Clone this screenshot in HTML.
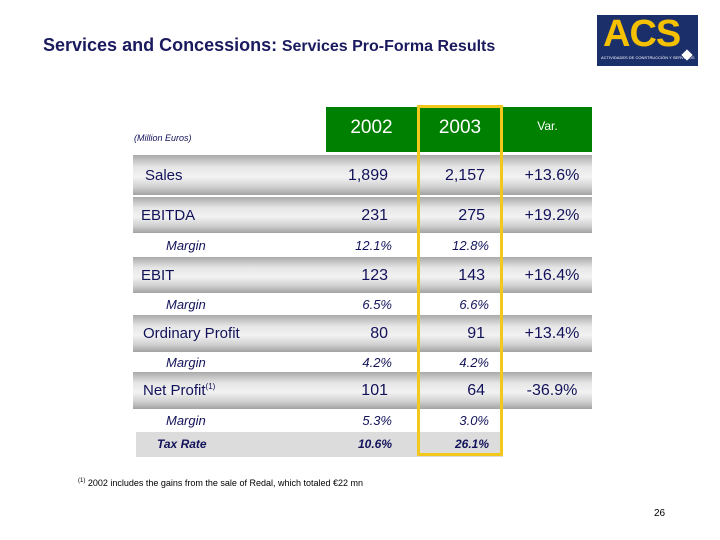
<!DOCTYPE html>
<html><head><meta charset="utf-8"><style>
body{margin:0;width:720px;height:540px;background:#fff;position:relative;overflow:hidden;font-family:"Liberation Sans",sans-serif;color:#12125a}
.a{position:absolute;white-space:nowrap}
.band{position:absolute;left:133px;width:459px;background:linear-gradient(#a9a9a9,#e6e6e6 30%,#f2f2f2 55%,#d0d0d0 80%,#a2a2a2)}
.hdr{position:absolute;top:107px;height:45px;background:#008000;color:#fff;font-size:19px;text-align:center;line-height:42px}
</style></head><body>
<div class="a" style="left:43px;top:35px;font-weight:bold;font-size:17px;color:#1a1a5e"><span style="font-size:18px">Services and Concessions:</span> <span style="font-size:16px">Services Pro-Forma Results</span></div>
<div class="a" style="left:597px;top:15px;width:101px;height:51px;background:#1b2f6b">
 <div class="a" style="left:6px;top:-2px;font-weight:bold;font-size:38px;color:#f5c000;letter-spacing:-1px">ACS</div>
 <div class="a" style="left:4px;top:40px;font-size:4px;color:#fff">ACTIVIDADES DE CONSTRUCCIÓN Y SERVICIOS</div>
 <div class="a" style="left:86px;top:36px;width:8px;height:8px;background:#fff;transform:rotate(45deg)"></div>
</div>
<div class="a" style="left:134px;top:133px;font-size:9px;font-style:italic">(Million Euros)</div>
<div class="hdr" style="left:326px;width:91px">2002</div>
<div class="hdr" style="left:417px;width:86px">2003</div>
<div class="hdr" style="left:503px;width:89px;font-size:12px;line-height:38px">Var.</div>
<div class="a" style="left:136px;top:432px;width:367px;height:25px;background:#dcdcdc"></div>
<div id="rows"></div>
<div class="a" style="left:417px;top:105px;width:80px;height:345px;border:3px solid #f2c81e"></div>
<div class="a" style="left:78px;top:478px;font-size:9px;color:#000"><sup style="font-size:6px">(1)</sup> 2002 includes the gains from the sale of Redal, which totaled €22 mn</div>
<div class="a" style="left:654px;top:508px;font-size:10px;color:#000">26</div>
<script>
const rowLabels=["Sales","EBITDA","Margin","EBIT","Margin","Ordinary Profit","Margin","Net Profit","Margin","Tax Rate"];
const rowKinds=["main","main","sub","main","sub","main","sub","main","sub","tax"];
const vals2002=["1,899","231","12.1%","123","6.5%","80","4.2%","101","5.3%","10.6%"];
const vals2003=["2,157","275","12.8%","143","6.6%","91","4.2%","64","3.0%","26.1%"];
const varVals=["+13.6%","+19.2%","","+16.4%","","+13.4%","","-36.9%","",""];
const tops=[155,197,233,257,293,315,352,372,409,432];
const hs=[40,36,24,36,22,37,20,37,23,25];
const c=document.getElementById('rows');
function txt(t,x,y,st,align){const d=document.createElement('div');d.className='a';d.textContent=t;
d.style.cssText=st+(align==='r'?';right:'+(720-x)+'px':align==='c'?';left:'+(x-40)+'px;width:80px;text-align:center':';left:'+x+'px')+';top:'+y+'px';c.appendChild(d);return d;}
rowLabels.forEach((l,i)=>{
 const k=rowKinds[i];
 if(k==='main'){const b=document.createElement('div');b.className='band';b.style.top=tops[i]+'px';b.style.height=hs[i]+'px';
 
 
 c.appendChild(b);}
 let st,lx;
 if(k==='main'){st='font-size:15px';lx=l==='Sales'?145:(l==='EBITDA'||l==='EBIT')?141:143;}
 else if(k==='sub'){st='font-size:13px;font-style:italic';lx=166;}
 else {st='font-size:12px;font-style:italic;font-weight:bold';lx=157;}
 const y=tops[i]+(hs[i]-(k==='main'?17:15))/2;
 const vst=k==='main'?'font-size:16px':st;
 const e=txt(l,lx,y,st,'l');
 
 
 if(l==='Net Profit'){const s=document.createElement('sup');s.textContent='(1)';s.style.fontSize='8px';e.appendChild(s);}
 const v1=txt(vals2002[i],k==='main'?388:392,y,vst,'r');
 
 
 const v2=txt(vals2003[i],k==='main'?485:489,y,vst,'r');
 
 
 if(varVals[i]){const v3=txt(varVals[i],552,y,vst,'c');
 
 }
});
</script>
</body></html>
